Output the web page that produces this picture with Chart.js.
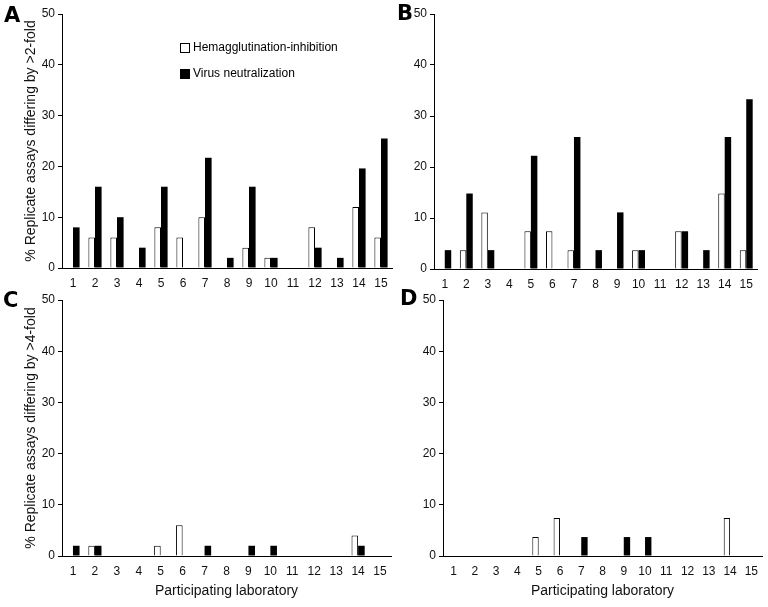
<!DOCTYPE html>
<html>
<head>
<meta charset="utf-8">
<script src="https://cdn.jsdelivr.net/npm/chart.js@4/dist/chart.umd.min.js"></script>
<style>
    body { margin: 0; background: #fff; }
    #page { position: relative; width: 768px; height: 607px; overflow: hidden; }
    .panel { position: absolute; }
    .letter { position: absolute; font-family: "DejaVu Sans", sans-serif; font-weight: bold; font-size: 21px; line-height: 1; color: #000; }
</style>
</head>
<body>
<div id="page">
    <div class="panel" id="panel-a" style="left:0px; top:0px; width:400px; height:300px;"><canvas id="chart-a"></canvas></div>
    <div class="panel" id="panel-b" style="left:384px; top:0px; width:384px; height:300px;"><canvas id="chart-b"></canvas></div>
    <div class="panel" id="panel-c" style="left:0px; top:286px; width:400px; height:321px;"><canvas id="chart-c"></canvas></div>
    <div class="panel" id="panel-d" style="left:384px; top:286px; width:384px; height:321px;"><canvas id="chart-d"></canvas></div>
    <div class="letter" style="left:4px; top:5px;">A</div>
    <div class="letter" style="left:397px; top:3px;">B</div>
    <div class="letter" style="left:3px; top:290px;">C</div>
    <div class="letter" style="left:400px; top:288px;">D</div>
</div>
<script>
// Data
const labs = ['1','2','3','4','5','6','7','8','9','10','11','12','13','14','15']
const seriesNames = ['Hemagglutination-inhibition', 'Virus neutralization']
const yTicks = [0, 10, 20, 30, 40, 50]

// >2-fold, panel A and B
const hiA = [0, 6, 6, 0, 8, 6, 10, 0, 4, 2, 0, 8, 0, 12, 6]
const vnA = [8, 16, 10, 4, 16, 0, 21.7, 2, 16, 2, 0, 4, 2, 19.6, 25.5]
const hiB = [0, 3.7, 11.1, 0, 7.4, 7.4, 3.7, 0, 0, 3.7, 0, 7.4, 0, 14.8, 3.7]
const vnB = [3.7, 14.8, 3.7, 0, 22.2, 0, 25.9, 3.7, 11.1, 3.7, 0, 7.4, 3.7, 25.9, 33.3]

// >4-fold, panel C and D
const hiC = [0, 2, 0, 0, 2, 6, 0, 0, 0, 0, 0, 0, 0, 4, 0]
const vnC = [2, 2, 0, 0, 0, 0, 2, 0, 2, 2, 0, 0, 0, 2, 0]
const hiD = [0, 0, 0, 0, 3.7, 7.4, 0, 0, 0, 0, 0, 0, 0, 7.4, 0]
const vnD = [0, 0, 0, 0, 0, 0, 3.7, 0, 3.7, 3.7, 0, 0, 0, 0, 0]

const FONT = '"Liberation Sans", Arial, sans-serif'

// Legend drawn inside panel A
const insideLegend = {
    id: 'insideLegend',
    afterDraw(chart, args, opts) {
        if (!opts.show) return
        const ctx = chart.ctx
        ctx.save()
        ctx.font = '12px ' + FONT
        ctx.textBaseline = 'middle'
        ctx.textAlign = 'left'
        chart.data.datasets.forEach(function(ds, i){
            let y = opts.y + i * 26
            ctx.fillStyle = ds.backgroundColor
            ctx.fillRect(opts.x, y - 5, 10, 10)
            ctx.strokeStyle = '#000'
            ctx.lineWidth = 1
            ctx.strokeRect(opts.x + 0.5, y - 4.5, 9, 9)
            ctx.fillStyle = '#000'
            ctx.fillText(ds.label, opts.x + 13, y)
        })
        ctx.restore()
    }
}

// Build one panel
function makePanel(id, hi, vn, geo){
    const config = {
        type: 'bar',
        data: {
            labels: labs,
            datasets: [
                { label: seriesNames[0], data: hi, backgroundColor: '#ffffff', borderColor: '#000000', borderWidth: 1 },
                { label: seriesNames[1], data: vn, backgroundColor: '#000000', borderColor: '#000000', borderWidth: 0 }
            ]
        },
        options: {
            responsive: true,
            maintainAspectRatio: false,
            animation: false,
            categoryPercentage: 0.6,
            barPercentage: 1.0,
            layout: { padding: { left: 0, right: geo.padRight, top: 14, bottom: 0 } },
            plugins: {
                legend: { display: false },
                tooltip: { enabled: false },
                insideLegend: { show: geo.legend, x: 180, y: 48 }
            },
            scales: {
                x: {
                    grid: { drawOnChartArea: false, drawTicks: false },
                    border: { display: true, color: '#000', width: 1 },
                    ticks: { color: '#111', font: { family: FONT, size: 12 }, padding: 8 },
                    title: {
                        display: geo.xTitle != null,
                        text: geo.xTitle || '',
                        color: '#111',
                        font: { family: FONT, size: 14 },
                        padding: { top: 0, bottom: 7 }
                    },
                    afterFit: function(scale){ scale.height = geo.xHeight }
                },
                y: {
                    min: 0,
                    max: 50,
                    afterBuildTicks: function(scale){ scale.ticks = yTicks.map(v => ({ value: v })) },
                    grid: { drawOnChartArea: false, drawTicks: true, tickLength: 4, color: '#000' },
                    border: { display: true, color: '#000', width: 1 },
                    ticks: { color: '#111', font: { family: FONT, size: 12 }, padding: 3 },
                    title: {
                        display: geo.yTitle != null,
                        text: geo.yTitle || '',
                        color: '#111',
                        font: { family: FONT, size: 14 },
                        padding: { top: 23, bottom: 0 }
                    },
                    afterFit: function(scale){ scale.width = geo.yWidth }
                }
            }
        },
        plugins: [insideLegend]
    }
    return new Chart(document.getElementById(id), config)
}

// Main
document.addEventListener("DOMContentLoaded", function(){
    makePanel('chart-a', hiA, vnA, { yWidth: 62, padRight: 8, xHeight: 32, legend: true,
        yTitle: '% Replicate assays differing by >2-fold' })
    makePanel('chart-b', hiB, vnB, { yWidth: 50, padRight: 11, xHeight: 31, legend: false })
    makePanel('chart-c', hiC, vnC, { yWidth: 62, padRight: 9, xHeight: 51, legend: false,
        yTitle: '% Replicate assays differing by >4-fold', xTitle: 'Participating laboratory' })
    makePanel('chart-d', hiD, vnD, { yWidth: 59, padRight: 6, xHeight: 51, legend: false,
        xTitle: 'Participating laboratory' })
})
</script>
</body>
</html>
